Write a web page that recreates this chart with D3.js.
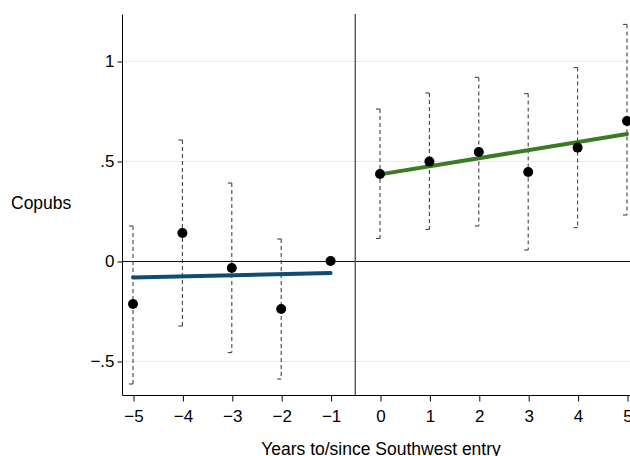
<!DOCTYPE html>
<html>
<head>
<meta charset="utf-8">
<script src="https://cdn.jsdelivr.net/npm/d3@7"></script>
<style>
  body { margin: 0; background: #fff; }
  svg { display: block; font-family: "Liberation Sans", Arial, Helvetica, sans-serif; }
</style>
</head>
<body>
<svg width="630" height="456"></svg>
<script>
// event-time coefficients, before and after entry
var preYears = [-5, -4, -3, -2, -1];
var preCoef  = [-0.215, 0.14, -0.035, -0.24, 0];
var preLow   = [-0.615, -0.325, -0.458, -0.59, null];
var preHigh  = [0.175, 0.605, 0.39, 0.11, null];

var postYears = [0, 1, 2, 3, 4, 5];
var postCoef  = [0.435, 0.497, 0.545, 0.445, 0.567, 0.70];
var postLow   = [0.113, 0.158, 0.175, 0.055, 0.167, 0.23];
var postHigh  = [0.76, 0.84, 0.918, 0.837, 0.967, 1.183];

// fitted trend lines (endpoints)
var preFitX  = [-5, -1];
var preFitY  = [-0.082, -0.06];
var postFitX = [0, 5];
var postFitY = [0.433, 0.635];

var xTicks = [-5, -4, -3, -2, -1, 0, 1, 2, 3, 4, 5];
var yTicks = [-0.5, 0, 0.5, 1];
var yTickLabels = ["\u2212.5", "0", ".5", "1"];

var svg = d3.select('svg');

var x = d3.scaleLinear().domain([-5, 5]).range([133, 627]);
var y = d3.scaleLinear().domain([0, 1]).range([261, 61]);

var plotLeft = 122, plotTop = 14, plotBottom = 395, plotRight = 640;

// grid lines
svg.append('g').selectAll('line.grid')
    .data(yTicks.filter(function (d) { return d !== 0; }))
    .enter()
    .append('line')
    .attr('class', 'grid')
    .attr('x1', plotLeft).attr('x2', plotRight)
    .attr('y1', function (d) { return y(d) + 0.5; })
    .attr('y2', function (d) { return y(d) + 0.5; })
    .attr('stroke', '#e3eef0')
    .attr('stroke-width', 1.2);

// zero line
svg.append('line')
    .attr('x1', plotLeft).attr('x2', plotRight)
    .attr('y1', y(0) + 0.5).attr('y2', y(0) + 0.5)
    .attr('stroke', '#111').attr('stroke-width', 1.1);

// entry line
svg.append('line')
    .attr('x1', x(-0.5)).attr('x2', x(-0.5))
    .attr('y1', plotTop).attr('y2', plotBottom)
    .attr('stroke', '#555').attr('stroke-width', 1.4);

// axes
var yAxis = d3.axisLeft(y).tickValues(yTicks)
    .tickFormat(function (d, i) { return yTickLabels[i]; })
    .tickSize(5).tickSizeOuter(0).tickPadding(3);
var yG = svg.append('g').attr('transform', 'translate(' + (plotLeft + 0.5) + ',0.5)').call(yAxis);
yG.select('.domain').attr('d', 'M0,' + plotTop + 'V' + plotBottom);

var xAxis = d3.axisBottom(x).tickValues(xTicks)
    .tickFormat(function (d) { return d < 0 ? "\u2212" + Math.abs(d) : d; })
    .tickSize(6).tickSizeOuter(0).tickPadding(8);
var xG = svg.append('g').attr('transform', 'translate(0.5,' + (plotBottom + 0.5) + ')').call(xAxis);
xG.select('.domain').attr('d', 'M' + plotLeft + ',0H' + plotRight);

svg.selectAll('.tick text')
    .style('font-size', '17px')
    .style('font-family', '"Liberation Sans", Arial, sans-serif')
    .attr('fill', '#000');
svg.selectAll('.tick line, .domain').attr('stroke', '#000');

// error bars
function drawBars(xs, lo, hi) {
    var rows = xs.map(function (d, i) { return {x: d, lo: lo[i], hi: hi[i]}; })
        .filter(function (d) { return d.lo !== null; });
    var g = svg.append('g').attr('stroke', '#444').attr('fill', 'none');
    rows.forEach(function (d) {
        var px = x(d.x);
        g.append('line')
            .attr('x1', px).attr('x2', px)
            .attr('y1', y(d.hi)).attr('y2', y(d.lo))
            .attr('stroke-width', 1.1)
            .attr('stroke-dasharray', '4,3');
        g.append('path')
            .attr('d', 'M' + (px - 4) + ',' + y(d.hi) + 'H' + px)
            .attr('stroke-width', 1.1);
        g.append('path')
            .attr('d', 'M' + (px - 4) + ',' + y(d.lo) + 'H' + px)
            .attr('stroke-width', 1.1);
    });
}
drawBars(preYears, preLow, preHigh);
drawBars(postYears, postLow, postHigh);

// fitted lines
var line = d3.line()
    .x(function (d) { return x(d[0]); })
    .y(function (d) { return y(d[1]); });

svg.append('path')
    .datum(d3.zip(preFitX, preFitY))
    .attr('d', line)
    .attr('fill', 'none').attr('stroke', '#0f4c73')
    .attr('stroke-width', 4).attr('stroke-linecap', 'round');

svg.append('path')
    .datum(d3.zip(postFitX, postFitY))
    .attr('d', line)
    .attr('fill', 'none').attr('stroke', '#3b7b24')
    .attr('stroke-width', 4).attr('stroke-linecap', 'round');

// points
var pts = d3.zip(preYears.concat(postYears), preCoef.concat(postCoef));
svg.append('g').selectAll('circle')
    .data(pts)
    .enter()
    .append('circle')
    .attr('cx', function (d) { return x(d[0]); })
    .attr('cy', function (d) { return y(d[1]); })
    .attr('r', 5)
    .attr('fill', '#000');

// axis titles
svg.append('text')
    .text('Copubs')
    .attr('x', 11).attr('y', 209)
    .attr('font-size', 17.5).attr('fill', '#000');

svg.append('text')
    .text('Years to/since Southwest entry')
    .attr('x', 381).attr('y', 455)
    .attr('text-anchor', 'middle')
    .attr('font-size', 17.5).attr('fill', '#000');
</script>
</body>
</html>
